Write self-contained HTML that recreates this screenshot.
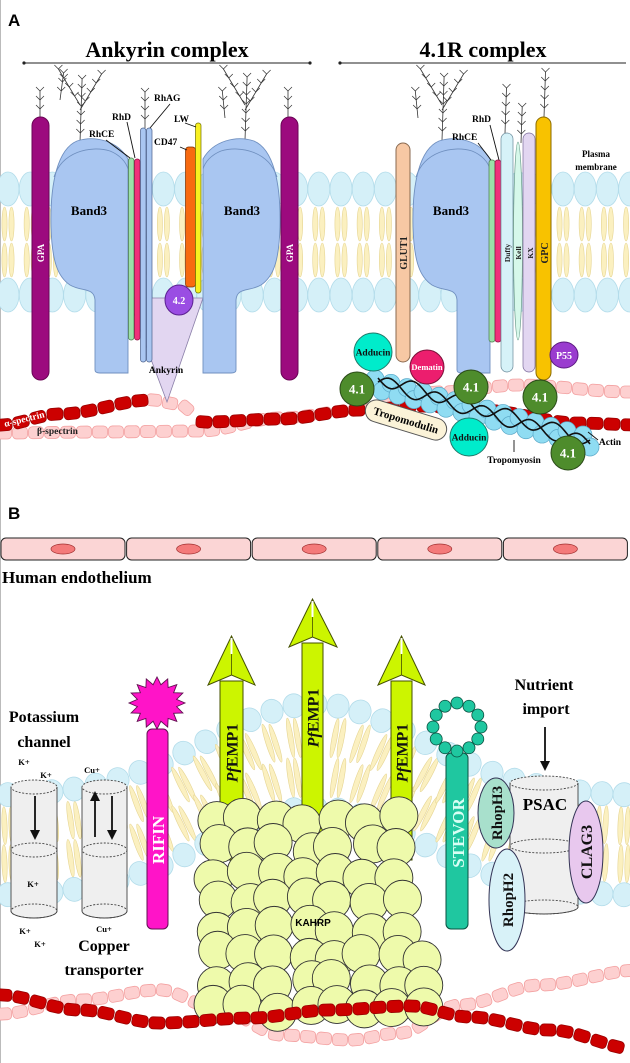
<!DOCTYPE html>
<html><head><meta charset="utf-8"><style>
html,body{margin:0;padding:0;background:#fff;}
svg{display:block;}
text{font-family:"Liberation Serif",serif;font-weight:bold;}
.s{font-family:"Liberation Sans",sans-serif;}
</style></head><body>
<svg id="sv" width="630" height="1063" viewBox="0 0 630 1063" xmlns="http://www.w3.org/2000/svg">
<rect x="0" y="0" width="630" height="1063" fill="#fff"/>
<line x1="0.5" y1="0" x2="0.5" y2="1063" stroke="#bbb"/>
<g id="L0"></g>
<g id="L1"></g>
<g id="L2"></g>
<g id="L3"></g>
<g id="L4"></g>
<g id="L5"></g>
</svg>
<script>
var NS="http://www.w3.org/2000/svg";
function el(layer,tag,a,txt){var e=document.createElementNS(NS,tag);for(var k in a)e.setAttribute(k,a[k]);if(txt!==undefined)e.textContent=txt;document.getElementById(layer).appendChild(e);return e;}
function interp(p,x){for(var i=0;i<p.length-1;i++){if(x>=p[i][0]&&x<=p[i+1][0]){var t=(x-p[i][0])/(p[i+1][0]-p[i][0]);var s=t*t*(3-2*t);return p[i][1]+(p[i+1][1]-p[i][1])*s;}}return p[p.length-1][1];}
function beads(layer,p,x0,x1,step,fill,stroke,w,h){for(var x=x0;x<=x1;x+=step){var y=interp(p,x),y2=interp(p,x+1);var a=Math.atan2(y2-y,1)*180/Math.PI;el(layer,'rect',{x:-w/2,y:-h/2,width:w,height:h,rx:4,fill:fill,stroke:stroke,'stroke-width':0.8,transform:'translate('+x+','+y+') rotate('+a+')'});}}
var HEAD='#d5f0f8',HEADS='#b3dcea',TAIL='#fbf0c0',TAILS='#e6d592';
/* ---------- PANEL A membrane ---------- */
for(var x=8;x<640;x+=22.2){
  el('L0','ellipse',{cx:x,cy:189,rx:11,ry:17,fill:HEAD,stroke:HEADS,'stroke-width':0.8});
  el('L0','ellipse',{cx:x,cy:295,rx:11,ry:17,fill:HEAD,stroke:HEADS,'stroke-width':0.8});
  [-3.5,3.5].forEach(function(d){
    el('L0','ellipse',{cx:x+d,cy:224,rx:2.6,ry:17,fill:TAIL,stroke:TAILS,'stroke-width':0.6});
    el('L0','ellipse',{cx:x+d,cy:260,rx:2.6,ry:17,fill:TAIL,stroke:TAILS,'stroke-width':0.6});
  });
}
/* glycan trees */
function tree(layer,x,y,h,lean){var d='M'+x+','+y;var cx=x,cy=y;var n=Math.round(h/9);for(var i=0;i<n;i++){var nx=cx+lean*3,ny=cy-9;d+=' L'+nx+','+ny;cx=nx;cy=ny;}
 el(layer,'path',{d:d,fill:'none',stroke:'#333','stroke-width':0.8});
 cx=x;cy=y;for(var i=0;i<n;i++){cx+=lean*3;cy-=9;el(layer,'path',{d:'M'+(cx-4)+','+(cy-4)+' L'+cx+','+cy+' L'+(cx+4)+','+(cy-4),fill:'none',stroke:'#333','stroke-width':0.7});}}
tree('L1',40,118,30,0);tree('L1',288,118,30,0);
tree('L1',80,142,60,0.1);tree('L1',80,110,34,1.8);tree('L1',80,105,40,-1.8);tree('L1',60,100,30,0.4);
tree('L1',245,140,60,0.1);tree('L1',245,110,34,1.8);tree('L1',245,105,40,-1.8);tree('L1',225,118,30,-0.3);
tree('L1',145,128,40,0);tree('L1',544,117,45,0.1);
tree('L1',442,140,60,0.1);tree('L1',442,110,34,1.8);tree('L1',442,105,40,-1.8);tree('L1',418,118,30,-0.3);
tree('L1',505,133,45,0.1);tree('L1',521,143,38,0.1);
/* spectrin A */
var betaA=[[0,433],[100,432],[200,431],[280,418],[360,410],[440,392],[520,385],[630,392]];
var alphaA=[[0,425],[60,414],[152,400],[178,404],[205,422],[280,419],[361,410],[420,406],[480,410],[578,423],[640,425]];
beads('L1',betaA,4,630,16,'#fdd0d0','#f3a0a0',15,12);
beads('L1',alphaA,154,200,16,'#fdd0d0','#f3a0a0',15,12);
beads('L2',alphaA,4,150,17,'#cc0000','#990000',16,12);
beads('L2',alphaA,204,630,17,'#cc0000','#990000',16,12);
/* Band3 */
function band3(layer,x0,flip){var tr=flip?'translate('+(x0+78)+',137) scale(-1,1)':'translate('+x0+',137)';
 var g=el(layer,'g',{transform:tr});
 var p=document.createElementNS(NS,'path');p.setAttribute('d','M78,22 C68,4 45,-2 27,4 C8,12 0,45 1,90 C2,125 8,140 20,148 C32,155 44,150 45,163 L45,233 Q45,236 50,236 L78,236 Z');p.setAttribute('fill','#a9c6f1');p.setAttribute('stroke','#6f8fbf');p.setAttribute('stroke-width','0.9');g.appendChild(p);
 var q=document.createElementNS(NS,'path');q.setAttribute('d','M4,40 C12,15 40,8 60,14 C70,18 76,25 78,32');q.setAttribute('fill','none');q.setAttribute('stroke','#6f8fbf');q.setAttribute('stroke-width','0.9');g.appendChild(q);}
/* ankyrin */
el('L2','path',{d:'M128,298 L203,298 L167,402 Z',fill:'#e2d6f1',stroke:'#8a7fa8','stroke-width':0.8});
band3('L3',50,false);band3('L3',203,true);band3('L3',412,false);
el('L3','rect',{x:32,y:117,width:17,height:263,rx:8.5,fill:'#9c0a7e',stroke:'#6a0555'});
el('L3','rect',{x:281,y:117,width:17,height:263,rx:8.5,fill:'#9c0a7e',stroke:'#6a0555'});
el('L3','rect',{x:128.5,y:158,width:5.5,height:182,rx:2.5,fill:'#9be0a8',stroke:'#4a7a4a','stroke-width':0.7});
el('L3','rect',{x:134.5,y:159,width:5.5,height:181,rx:2.5,fill:'#f0307a',stroke:'#8a1040','stroke-width':0.7});
el('L3','rect',{x:140.5,y:128,width:5.5,height:234,rx:2.5,fill:'#a9c6f1',stroke:'#4a5f8a','stroke-width':0.7});
el('L3','rect',{x:146.5,y:128,width:5.5,height:234,rx:2.5,fill:'#a9c6f1',stroke:'#4a5f8a','stroke-width':0.7});
el('L3','rect',{x:185.5,y:147,width:10,height:140,rx:3,fill:'#f86a10',stroke:'#7a3000','stroke-width':0.7});
el('L3','rect',{x:195.5,y:123,width:5.5,height:170,rx:2.5,fill:'#f8f020',stroke:'#707000','stroke-width':0.7});
el('L4','ellipse',{cx:179,cy:300,rx:14,ry:15,fill:'#9a4de3',stroke:'#5a2090'});
el('L4','text',{x:179,y:304,'font-size':10,fill:'#fff','text-anchor':'middle'},'4.2');
/* right complex proteins */
el('L3','rect',{x:396,y:143,width:14,height:219,rx:7,fill:'#f7c8a4',stroke:'#8a6a50'});
el('L3','rect',{x:489,y:160,width:6,height:182,rx:2.5,fill:'#9be0a8',stroke:'#4a7a4a','stroke-width':0.7});
el('L3','rect',{x:495,y:160,width:6,height:182,rx:2.5,fill:'#f0307a',stroke:'#8a1040','stroke-width':0.7});
el('L3','rect',{x:501,y:133,width:12,height:239,rx:6,fill:'#d6f2f8',stroke:'#6a8a9a','stroke-width':0.7});
el('L3','ellipse',{cx:518,cy:241,rx:4.5,ry:99,fill:'#d6f8ea',stroke:'#6a9a8a','stroke-width':0.7});
el('L3','rect',{x:523,y:133,width:12,height:239,rx:6,fill:'#e2d6f1',stroke:'#7a6a9a','stroke-width':0.7});
el('L3','rect',{x:536,y:117,width:15,height:263,rx:7.5,fill:'#f8c200',stroke:'#8a6a00'});
el('L4','ellipse',{cx:564,cy:355,rx:14,ry:13,fill:'#9a3ccf',stroke:'#5a1a80'});
el('L5','text',{x:564,y:359,'font-size':10,fill:'#fff','text-anchor':'middle'},'P55');
/* actin */
for(var i=0;i<14;i++){var t=i/13;var ax=375+t*208,ay=385+t*56;
 el('L3','circle',{cx:ax,cy:ay-6,r:9,fill:'#8fdcf2',stroke:'#5aa8c8','stroke-width':0.7});
 el('L3','circle',{cx:ax+7,cy:ay+6,r:9,fill:'#8fdcf2',stroke:'#5aa8c8','stroke-width':0.7});}
(function(){var d1='',d2='';for(var i=0;i<=100;i++){var t=i/100;var x=378+t*212,y=378+t*62;var s=Math.sin(t*Math.PI*9)*7;d1+=(i?' L':'M')+x+','+(y+s);d2+=(i?' L':'M')+x+','+(y-s+4);}
 el('L4','path',{d:d1,fill:'none',stroke:'#111','stroke-width':1.6});el('L4','path',{d:d2,fill:'none',stroke:'#111','stroke-width':1.6});})();
function circ(x,y,r,f,s,t,fs,tc){el('L4','circle',{cx:x,cy:y,r:r,fill:f,stroke:s});el('L5','text',{x:x,y:y+fs*0.35,'font-size':fs,fill:tc,'text-anchor':'middle'},t);}
circ(373,352,19,'#00eccb','#207a6a','Adducin',9.5,'#111');
circ(427,367,17,'#ec1e6e','#7a1038','Dematin',8.5,'#fff');
circ(469,437,19,'#00eccb','#207a6a','Adducin',9.5,'#111');
circ(357,389,17,'#4e8c2c','#2a4a18','4.1',13,'#fff');
circ(471,387,17,'#4e8c2c','#2a4a18','4.1',13,'#fff');
circ(540,397,17,'#4e8c2c','#2a4a18','4.1',13,'#fff');
circ(568,453,17,'#4e8c2c','#2a4a18','4.1',13,'#fff');
el('L4','rect',{x:-42,y:-11,width:84,height:22,rx:11,fill:'#fbf3d8',stroke:'#555',transform:'translate(406,420) rotate(17)'});
el('L5','text',{x:0,y:4,'font-size':11,'text-anchor':'middle',transform:'translate(406,420) rotate(17)'},'Tropomodulin');
/* labels A */
el('L5','text',{x:8,y:26,'font-size':17,class:'s'},'A');
el('L5','text',{x:167,y:57,'font-size':22,'text-anchor':'middle'},'Ankyrin complex');
el('L5','text',{x:483,y:57,'font-size':22,'text-anchor':'middle'},'4.1R complex');
el('L5','line',{x1:24,y1:63,x2:310,y2:63,stroke:'#222','stroke-width':1.1});
el('L5','line',{x1:340,y1:63,x2:626,y2:63,stroke:'#222','stroke-width':1.1});
[24,310,340].forEach(function(x){el('L5','circle',{cx:x,cy:63,r:1.6,fill:'#222'});});
el('L5','text',{x:89,y:215,'font-size':13,'text-anchor':'middle'},'Band3');
el('L5','text',{x:242,y:215,'font-size':13,'text-anchor':'middle'},'Band3');
el('L5','text',{x:451,y:215,'font-size':13,'text-anchor':'middle'},'Band3');
function vt(x,y,t,fs,fill){el('L5','text',{x:0,y:0,'font-size':fs,fill:fill,'text-anchor':'middle',transform:'translate('+x+','+y+') rotate(-90)'},t);}
vt(44,253,'GPA',9,'#fff');vt(293,253,'GPA',9,'#fff');vt(407,253,'GLUT1',10,'#222');
vt(510,253,'Duffy',7.5,'#222');vt(521,253,'Kell',7.5,'#222');vt(533,253,'KX',7.5,'#222');vt(548,253,'GPC',10,'#222');
el('L5','text',{x:154,y:101,'font-size':9.5},'RhAG');
el('L5','text',{x:112,y:120,'font-size':9.5},'RhD');
el('L5','text',{x:89,y:137,'font-size':9.5},'RhCE');
el('L5','text',{x:174,y:122,'font-size':9.5},'LW');
el('L5','text',{x:154,y:145,'font-size':9.5},'CD47');
el('L5','text',{x:472,y:122,'font-size':9.5},'RhD');
el('L5','text',{x:452,y:140,'font-size':9.5},'RhCE');
el('L5','text',{x:166,y:373,'font-size':9.5,'text-anchor':'middle'},'Ankyrin');
el('L5','text',{x:596,y:157,'font-size':9,'text-anchor':'middle'},'Plasma');
el('L5','text',{x:596,y:170,'font-size':9,'text-anchor':'middle'},'membrane');
el('L5','text',{x:0,y:0,'font-size':9.5,fill:'#fff',transform:'translate(5,427) rotate(-14)'},'α-spectrin');
el('L5','text',{x:37,y:434,'font-size':9.5,fill:'#222'},'β-spectrin');
el('L5','text',{x:514,y:463,'font-size':9.5,'text-anchor':'middle'},'Tropomyosin');
el('L5','text',{x:610,y:445,'font-size':9.5,'text-anchor':'middle'},'Actin');
[[127,122,135,158],[106,140,130,158],[170,104,150,128],[185,123,196,127],[180,147,187,150],[490,125,499,160],[478,143,491,160],[514,452,514,440],[598,440,588,432]].forEach(function(l){el('L5','line',{x1:l[0],y1:l[1],x2:l[2],y2:l[3],stroke:'#111','stroke-width':0.9});});
/* ---------- PANEL B ---------- */
el('L5','text',{x:8,y:519,'font-size':17,class:'s'},'B');
for(var i=0;i<5;i++){var cx=i*125.6;el('L1','rect',{x:cx+1,y:538,width:124,height:22,rx:5,fill:'#fbd5d5',stroke:'#222','stroke-width':1});
 el('L1','ellipse',{cx:cx+63,cy:549,rx:12,ry:5,fill:'#f47a7a',stroke:'#a03030','stroke-width':0.7});}
el('L5','text',{x:2,y:583,'font-size':17},'Human endothelium');
function g(x){return Math.exp(-Math.pow((x-315)/150,2));}
function yT(x){return 796-92*g(x);}function yB(x){return 896-88*g(x);}
for(var x=8;x<640;x+=22){
 var a1=Math.atan2(yT(x+1)-yT(x),1)*180/Math.PI,a2=Math.atan2(yB(x+1)-yB(x),1)*180/Math.PI;
 var t1=yT(x),b1=yB(x);var mid=(t1+b1)/2;
 [-3.5,3.5].forEach(function(d){
  el('L0','ellipse',{cx:0,cy:0,rx:2.6,ry:(mid-t1-12)/2,fill:TAIL,stroke:TAILS,'stroke-width':0.6,transform:'translate('+(x+d)+','+((t1+12+mid)/2)+') rotate('+a1+')'});
  el('L0','ellipse',{cx:0,cy:0,rx:2.6,ry:(b1-12-mid)/2,fill:TAIL,stroke:TAILS,'stroke-width':0.6,transform:'translate('+(x+d)+','+((b1-12+mid)/2)+') rotate('+a2+')'});});
 el('L0','ellipse',{cx:0,cy:0,rx:11,ry:12,fill:HEAD,stroke:HEADS,'stroke-width':0.8,transform:'translate('+x+','+t1+') rotate('+a1+')'});
 el('L0','ellipse',{cx:0,cy:0,rx:11,ry:12,fill:HEAD,stroke:HEADS,'stroke-width':0.8,transform:'translate('+x+','+b1+') rotate('+a2+')'});
}
/* cylinders */
function cyl(x0,x1,yt,ym,yb){var cx=(x0+x1)/2,rx=(x1-x0)/2;
 el('L2','path',{d:'M'+x0+','+yt+' L'+x0+','+yb+' A'+rx+',7 0 0 0 '+x1+','+yb+' L'+x1+','+yt,fill:'#efefef',stroke:'#444','stroke-width':0.9});
 el('L2','ellipse',{cx:cx,cy:yt,rx:rx,ry:7,fill:'#efefef',stroke:'#444','stroke-width':0.9,'stroke-dasharray':'2,1.5'});
 el('L2','ellipse',{cx:cx,cy:ym,rx:rx,ry:7,fill:'none',stroke:'#444','stroke-width':0.9,'stroke-dasharray':'2,1.5'});
 el('L2','ellipse',{cx:cx,cy:yb,rx:rx,ry:7,fill:'none',stroke:'#444','stroke-width':0.9,'stroke-dasharray':'2,1.5'});}
cyl(11,57,787,850,911);cyl(82,127,787,850,911);cyl(510,578,783,846,907);
function arr(x,y1,y2){el('L3','line',{x1:x,y1:y1,x2:x,y2:y2+(y2>y1?-9:9),stroke:'#111','stroke-width':1.8});var d=y2>y1?-10:10;el('L3','path',{d:'M'+(x-5)+','+(y2+d)+' L'+(x+5)+','+(y2+d)+' L'+x+','+y2+' Z',fill:'#111'});}
arr(35,796,840);arr(95,837,791);arr(112,796,840);arr(545,727,771);
/* rhop / clag */
el('L3','ellipse',{cx:496,cy:813,rx:18,ry:35,fill:'#a8e0cc',stroke:'#335'});
el('L3','ellipse',{cx:586,cy:852,rx:17,ry:51,fill:'#e8c8ee',stroke:'#335'});
el('L3','ellipse',{cx:507,cy:900,rx:18,ry:51,fill:'#d8f2f8',stroke:'#335'});
vt(502,813,'RhopH3',15,'#111');vt(513,900,'RhopH2',15,'#111');vt(592,852,'CLAG3',16,'#111');
el('L5','text',{x:545,y:810,'font-size':17,'text-anchor':'middle'},'PSAC');
/* RIFIN & STEVOR */
el('L2','rect',{x:147,y:729,width:21,height:200,rx:5,fill:'#ff14c8',stroke:'#601050'});
(function(){var d='';for(var i=0;i<32;i++){var a=i/32*Math.PI*2;var r=i%2?20:28;d+=(i?' L':'M')+(157+r*Math.cos(a))+','+(703+r*0.93*Math.sin(a));}el('L2','path',{d:d+'Z',fill:'#ff14c8',stroke:'#601050','stroke-width':0.9});})();
vt(164,840,'RIFIN',17,'#fff');
el('L2','rect',{x:446,y:753,width:22,height:176,rx:5,fill:'#1fc7a0',stroke:'#0a5040'});
for(var i=0;i<12;i++){var a=i/12*Math.PI*2;el('L2','circle',{cx:457+24*Math.cos(a),cy:727+24*Math.sin(a),r:6,fill:'#1fc7a0',stroke:'#0a5040','stroke-width':0.8});}
vt(464,833,'STEVOR',17,'#d8fff4');
/* PfEMP1 arrows */
function pf(x0,x1,tip,base,bot,hx0,hx1,ly){var cx=(x0+x1)/2;
 el('L2','rect',{x:x0,y:base-2,width:x1-x0,height:bot-base+2,fill:'#ccf500',stroke:'#445000'});
 el('L2','path',{d:'M'+cx+','+tip+' L'+hx1+','+(base+2)+' L'+cx+','+(base-8)+' L'+hx0+','+(base+2)+' Z',fill:'#ccf500',stroke:'#445000'});
 el('L2','line',{x1:cx,y1:tip,x2:cx,y2:base-8,stroke:'#445000','stroke-width':0.8});
 el('L2','line',{x1:cx,y1:tip+2,x2:cx,y2:tip+18,stroke:'#fff','stroke-width':2});
 var t=el('L5','text',{x:0,y:0,'font-size':16,fill:'#111','text-anchor':'middle',transform:'translate('+(cx+6)+','+ly+') rotate(-90)'});
 var a=document.createElementNS(NS,'tspan');a.setAttribute('font-style','italic');a.textContent='Pf';t.appendChild(a);t.appendChild(document.createTextNode('EMP1'));}
pf(220,243,636,683,860,208,255,753);pf(302,323,599,645,880,289,337,718);pf(391,412,636,683,860,378,425,753);
/* spectrin B pink */
var pinkB=[[0,1014],[80,1000],[160,990],[220,1010],[281,1035],[350,1040],[400,1033],[460,1005],[540,985],[640,970]];
var redB=[[0,995],[80,1010],[160,1023],[250,1018],[330,1010],[410,1006],[470,1017],[550,1030],[640,1050]];
beads('L2',pinkB,4,630,16,'#fdd0d0','#f3a0a0',15,12);
/* KAHRP cluster */
(function(){var seed=7;function rnd(){seed=(seed*9301+49297)%233280;return seed/233280;}
 var pts=[];for(var y=820;y<=1020;y+=27){for(var x=205;x<=425;x+=30){var xx=x+(rnd()-0.5)*12+((y/27)%2?12:0),yy=y+(rnd()-0.5)*10;if(xx<213||xx>425)continue;pts.push([xx,yy]);}}
 pts.forEach(function(p){el('L3','circle',{cx:p[0],cy:p[1],r:19,fill:'#eefaab',stroke:'#333','stroke-width':0.9});});})();
el('L5','text',{x:313,y:926,'font-size':10,'text-anchor':'middle',class:'s'},'KAHRP');
beads('L4',redB,4,630,17,'#cc0000','#990000',16,12);
/* labels B */
el('L5','text',{x:44,y:722,'font-size':16,'text-anchor':'middle'},'Potassium');
el('L5','text',{x:44,y:747,'font-size':16,'text-anchor':'middle'},'channel');
el('L5','text',{x:104,y:951,'font-size':16,'text-anchor':'middle'},'Copper');
el('L5','text',{x:104,y:975,'font-size':16,'text-anchor':'middle'},'transporter');
el('L5','text',{x:544,y:690,'font-size':16,'text-anchor':'middle'},'Nutrient');
el('L5','text',{x:546,y:714,'font-size':16,'text-anchor':'middle'},'import');
[[24,765,'K+'],[46,778,'K+'],[33,887,'K+'],[25,934,'K+'],[40,947,'K+'],[92,773,'Cu+'],[104,932,'Cu+']].forEach(function(l){el('L5','text',{x:l[0],y:l[1],'font-size':8.5,'text-anchor':'middle'},l[2]);});
</script>
</body></html>
